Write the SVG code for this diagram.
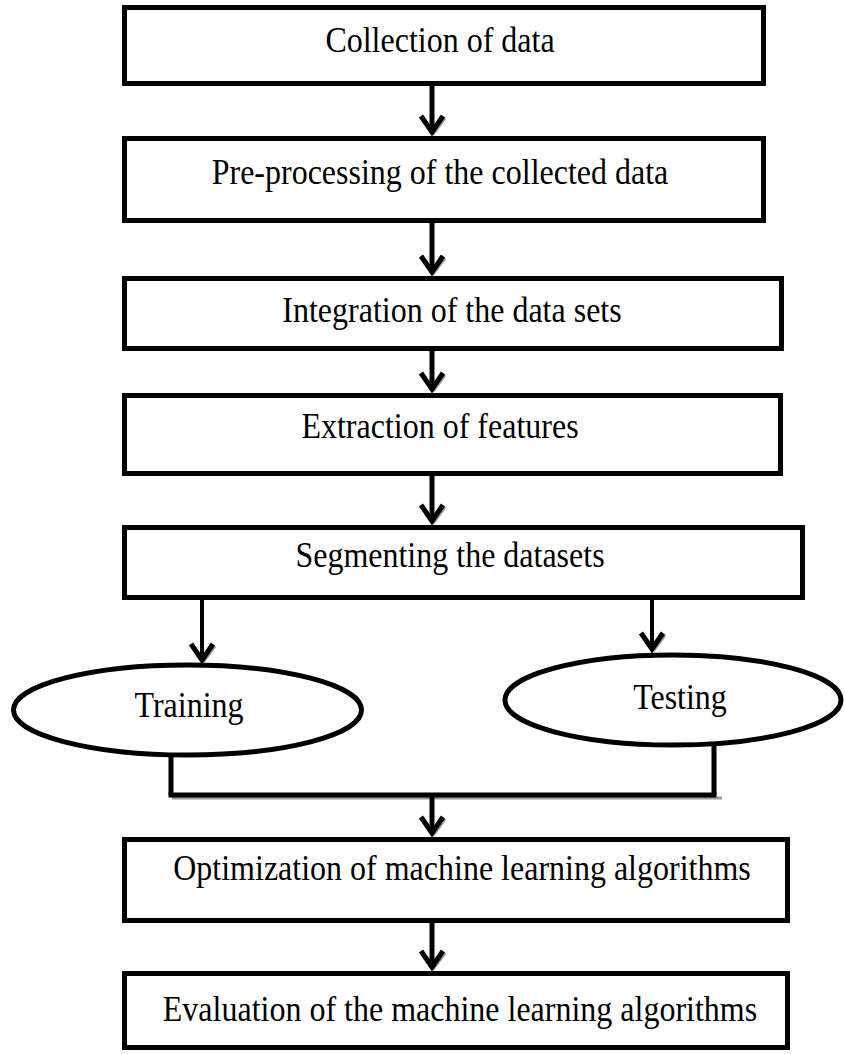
<svg xmlns="http://www.w3.org/2000/svg" width="845" height="1054" viewBox="0 0 845 1054">
<style>
.box{fill:#fff;stroke:#000;stroke-width:5}
.ell{fill:#fff;stroke:#000;stroke-width:5}
.lbl{font-family:"Liberation Serif","Times New Roman",serif;font-size:32px;fill:#000;text-anchor:middle}
.ln{fill:none;stroke:#000;stroke-width:5}
.ln2{fill:none;stroke:#000;stroke-width:4}
.head{fill:none;stroke:#000;stroke-width:5;stroke-linejoin:miter}
.shadow{fill:none;stroke:#9a9a9a;stroke-width:3}
</style>
<rect width="845" height="1054" fill="#fff"/>
<g id="n1"><rect class="box" x="124.5" y="7.5" width="639" height="76"/><text class="lbl" transform="translate(440,52) scale(1,1.12)">Collection of data</text></g>
<g id="n2"><rect class="box" x="124.5" y="138.5" width="639" height="82"/><text class="lbl" transform="translate(440,184) scale(1,1.12)">Pre-processing of the collected data</text></g>
<g id="n3"><rect class="box" x="124.5" y="278.5" width="657" height="70"/><text class="lbl" transform="translate(452,322) scale(1,1.12)">Integration of the data sets</text></g>
<g id="n4"><rect class="box" x="124.5" y="395.5" width="656" height="78"/><text class="lbl" transform="translate(440,438) scale(1,1.12)">Extraction of features</text></g>
<g id="n5"><rect class="box" x="124.5" y="527.5" width="678" height="70"/><text class="lbl" transform="translate(450,567) scale(1,1.12)">Segmenting the datasets</text></g>
<g id="n6"><ellipse class="ell" cx="187.5" cy="710" rx="174" ry="45"/><text class="lbl" transform="translate(189,717) scale(1,1.12)">Training</text></g>
<g id="n7"><ellipse class="ell" cx="673" cy="700" rx="168" ry="45"/><text class="lbl" transform="translate(680,709) scale(1,1.12)">Testing</text></g>
<g id="n8"><rect class="box" x="124.5" y="839.5" width="663" height="81"/><text class="lbl" transform="translate(462,880) scale(1,1.12)">Optimization of machine learning algorithms</text></g>
<g id="n9"><rect class="box" x="124.5" y="973.5" width="663" height="74"/><text class="lbl" transform="translate(460,1021) scale(1,1.12)">Evaluation of the machine learning algorithms</text></g>
<g id="connectors">
<line class="ln" x1="432" y1="86" x2="432" y2="133"/>
<path class="shadow" d="M423,118 L434,133 L445,118"/>
<path class="head" d="M421,116 L432,132 L443,116"/>
<line class="ln" x1="432" y1="223" x2="432" y2="273"/>
<path class="shadow" d="M423,258 L434,273 L445,258"/>
<path class="head" d="M421,256 L432,272 L443,256"/>
<line class="ln" x1="432" y1="351" x2="432" y2="390"/>
<path class="shadow" d="M423,375 L434,390 L445,375"/>
<path class="head" d="M421,373 L432,389 L443,373"/>
<line class="ln" x1="432" y1="476" x2="432" y2="522"/>
<path class="shadow" d="M423,507 L434,522 L445,507"/>
<path class="head" d="M421,505 L432,521 L443,505"/>
<line class="ln2" x1="202" y1="600" x2="202" y2="661"/>
<path class="shadow" d="M193,646 L204,661 L215,646"/>
<path class="head" d="M191,644 L202,660 L213,644"/>
<line class="ln2" x1="652" y1="600" x2="652" y2="650"/>
<path class="shadow" d="M643,635 L654,650 L665,635"/>
<path class="head" d="M641,633 L652,649 L663,633"/>
<line class="ln" x1="171" y1="755" x2="171" y2="795"/>
<line class="ln" x1="714" y1="745" x2="714" y2="795"/>
<line class="shadow" x1="172" y1="798" x2="722" y2="798"/>
<line class="ln" x1="168.5" y1="795" x2="716.5" y2="795"/>
<line class="ln" x1="432" y1="795" x2="432" y2="834"/>
<path class="shadow" d="M423,819 L434,834 L445,819"/>
<path class="head" d="M421,817 L432,833 L443,817"/>
<line class="ln" x1="432" y1="923" x2="432" y2="968"/>
<path class="shadow" d="M423,953 L434,968 L445,953"/>
<path class="head" d="M421,951 L432,967 L443,951"/>
</g>
</svg>
